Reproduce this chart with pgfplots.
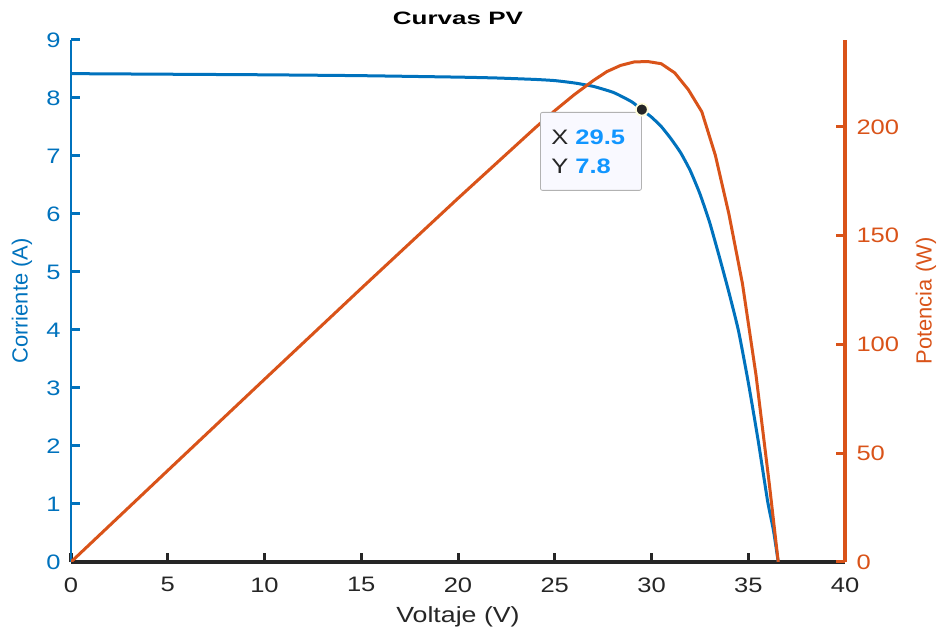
\documentclass[border=0pt]{standalone}
\usepackage{pgfplots}
\pgfplotsset{compat=1.18}
\usepackage{fontspec}
\setmainfont{Liberation Sans}[FakeStretch=1.22]
\newfontfamily\plainfont{Liberation Sans}
\newfontfamily\titlefont{Liberation Sans}[FakeStretch=1.45]
\definecolor{mblue}{HTML}{0072BD}
\definecolor{morange}{HTML}{D95319}
\definecolor{mgray}{HTML}{262626}
\definecolor{tipblue}{HTML}{1196FF}
\definecolor{tipfill}{HTML}{F9F9FF}
\begin{document}
\begin{tikzpicture}
\useasboundingbox (0,0) rectangle (941bp,631bp);
\pgfplotsset{
  common/.style={
    at={(71bp,69bp)}, anchor=south west,
    width=774bp, height=522bp, scale only axis,
    xmin=0, xmax=40,
    /pgf/number format/assume math mode=true,
    tick align=inside,
    major tick length=9bp,
    tick label style={font=\fontsize{21}{22}\selectfont},
    label style={font=\plainfont\fontsize{22}{24}\selectfont},
  }
}
\begin{axis}[common,
  ymin=0, ymax=9,
  axis x line*=bottom, axis y line*=left,
  x axis line style={-, mgray, line width=3.5bp},
  y axis line style={-, mblue, line width=2.6bp},
  xtick={0,5,...,40}, ytick={0,1,...,9},
  xtick style={mgray, line width=3bp},
  ytick style={mblue, line width=3bp},
  x tick label style={mgray, yshift=-12bp},
  y tick label style={mblue, xshift=-7bp},
  xlabel={Voltaje (V)}, ylabel={Corriente (A)},
  xlabel style={mgray, font=\fontsize{22}{24}\selectfont, at={(axis description cs:0.5,-0.1054)}, anchor=center},
  ylabel style={mblue, at={(axis description cs:-0.0633,0.5)}, anchor=center},
  title={\titlefont\bfseries Curvas PV},
  title style={font=\fontsize{18}{20}\selectfont, at={(axis description cs:0.5,1.03)}, anchor=center},
]
\addplot[mblue, line width=3bp, smooth, tension=0.3] coordinates {
(0,8.42) (5,8.41) (10,8.40) (15,8.385) (20,8.36) (22,8.345) (24,8.32)
(25,8.30) (26,8.26) (27,8.20) (28,8.10) (28.5,8.02) (29,7.93) (29.5,7.80)
(30,7.67) (30.5,7.51) (31,7.30) (31.5,7.06) (32,6.75) (32.5,6.35) (33,5.86)
(33.5,5.27) (34,4.65) (34.5,3.98) (35,3.10) (35.5,2.12) (36,1.05) (36.3,0.55) (36.55,0)
};
\end{axis}
\begin{axis}[common,
  ymin=0, ymax=240,
  axis x line=none, axis y line*=right,
  y axis line style={-, morange, line width=3.2bp},
  ytick={0,50,...,200},
  ytick style={morange, line width=3bp},
  y tick label style={morange, xshift=8bp},
  ylabel={Potencia (W)},
  ylabel style={morange, at={(axis description cs:1.1047,0.5)}, anchor=center},
]
\addplot[morange, line width=3bp, line join=round] coordinates {
(0,0) (5,42.05) (10,84.0) (15,125.8) (20,167.2) (24,199.7) (25,207.5)
(26,214.8) (27,221.4) (27.7,225.5) (28.4,228.3) (29.1,229.9) (29.8,230.1)
(30.5,229.1) (31.2,224.9) (31.9,217.2) (32.6,207) (33.3,187) (34.0,160)
(34.7,128) (35.4,86) (36.1,35) (36.55,0)
};
\node[draw=black!30, fill=tipfill, rounded corners=2bp, line width=0.8bp,
  anchor=north west, minimum width=101bp, minimum height=78bp,
  text width=79bp, inner xsep=11bp, align=left,
  font=\fontsize{21}{29}\selectfont]
  at (axis cs:24.24,206.9)
  {\textcolor{mgray}{X} \textbf{\textcolor{tipblue}{29.5}}\\
   \textcolor{mgray}{Y} \textbf{\textcolor{tipblue}{7.8}}};
\end{axis}
\begin{axis}[common, ymin=0, ymax=9, hide axis]
\addplot[only marks, mark=*, mark size=6bp,
  mark options={fill=black!85, draw=yellow!15, line width=1.8bp}]
  coordinates {(29.5,7.8)};
\end{axis}
\end{tikzpicture}
\end{document}
